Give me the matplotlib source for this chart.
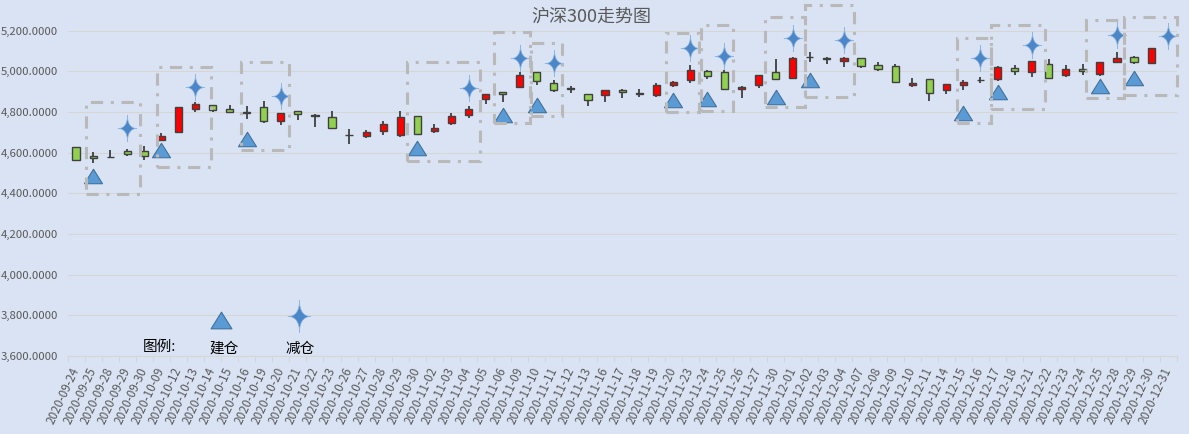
import numpy as np
import matplotlib
matplotlib.use('Agg')
import matplotlib.pyplot as plt
from matplotlib.path import Path
from matplotlib.patches import Rectangle
from matplotlib.ticker import FuncFormatter

plt.rcParams['font.family'] = ['Noto Sans CJK SC', 'DejaVu Sans']

# ---------------- data ----------------
dates = ['2020-09-24', '2020-09-25', '2020-09-28', '2020-09-29', '2020-09-30',
         '2020-10-09', '2020-10-12', '2020-10-13', '2020-10-14', '2020-10-15',
         '2020-10-16', '2020-10-19', '2020-10-20', '2020-10-21', '2020-10-22',
         '2020-10-23', '2020-10-26', '2020-10-27', '2020-10-28', '2020-10-29',
         '2020-10-30', '2020-11-02', '2020-11-03', '2020-11-04', '2020-11-05',
         '2020-11-06', '2020-11-09', '2020-11-10', '2020-11-11', '2020-11-12',
         '2020-11-13', '2020-11-16', '2020-11-17', '2020-11-18', '2020-11-19',
         '2020-11-20', '2020-11-23', '2020-11-24', '2020-11-25', '2020-11-26',
         '2020-11-27', '2020-11-30', '2020-12-01', '2020-12-02', '2020-12-03',
         '2020-12-04', '2020-12-07', '2020-12-08', '2020-12-09', '2020-12-10',
         '2020-12-11', '2020-12-14', '2020-12-15', '2020-12-16', '2020-12-17',
         '2020-12-18', '2020-12-21', '2020-12-22', '2020-12-23', '2020-12-24',
         '2020-12-25', '2020-12-28', '2020-12-29', '2020-12-30', '2020-12-31']

opens = [4626, 4583, 4579, 4606, 4606, 4664, 4703, 4813, 4833, 4813,
         4796, 4823, 4754, 4803, 4781, 4774, 4687, 4680, 4705, 4685,
         4779, 4705, 4744, 4784, 4862, 4897, 4921, 4995, 4941, 4914,
         4887, 4882, 4907, 4891, 4882, 4931, 4956, 5000, 4995, 4912,
         4932, 4995, 4966, 5069, 5068, 5049, 5068, 5029, 5024, 4932,
         4961, 4907, 4932, 4957, 4961, 5015, 4995, 5034, 4980, 5010,
         4985, 5044, 5073, 5039, np.nan]
highs = [4630, 4601, 4611, 4616, 4634, 4695, 4825, 4847, 4833, 4834,
         4828, 4854, 4793, 4805, 4792, 4803, 4715, 4710, 4754, 4803,
         4780, 4739, 4793, 4828, 4887, 4897, 4997, 4995, 4957, 4928,
         4887, 4907, 4911, 4911, 4941, 4951, 5030, 5005, 5005, 4927,
         4980, 5059, 5073, 5093, 5073, 5073, 5068, 5044, 5034, 4966,
         4961, 4936, 4956, 4971, 5024, 5029, 5049, 5059, 5029, 5034,
         5044, 5093, 5078, 5117, np.nan]
lows = [4560, 4551, 4572, 4585, 4562, 4656, 4700, 4798, 4798, 4798,
        4767, 4747, 4738, 4759, 4724, 4720, 4641, 4670, 4685, 4679,
        4685, 4695, 4734, 4769, 4838, 4847, 4921, 4931, 4900, 4892,
        4828, 4847, 4867, 4872, 4872, 4921, 4941, 4961, 4911, 4868,
        4917, 4961, 4966, 5044, 5034, 5020, 5015, 5000, 4946, 4922,
        4853, 4888, 4907, 4941, 4951, 4980, 4971, 4961, 4971, 4980,
        4976, 5039, 5034, 5039, np.nan]
closes = [4562, 4572, 4581, 4592, 4585, 4680, 4823, 4838, 4808, 4798,
          4798, 4754, 4793, 4792, 4783, 4720, 4689, 4700, 4739, 4774,
          4693, 4720, 4779, 4813, 4887, 4887, 4980, 4954, 4907, 4916,
          4857, 4907, 4897, 4893, 4931, 4946, 5005, 4975, 4911, 4922,
          4980, 4961, 5068, 5071, 5059, 5068, 5024, 5010, 4946, 4941,
          4892, 4936, 4946, 4959, 5020, 5000, 5049, 4966, 5010, 5000,
          5044, 5064, 5044, 5117, np.nan]

# 建仓 (build position) markers
buy_dates = ['2020-09-25', '2020-10-09', '2020-10-16', '2020-10-30', '2020-11-06',
             '2020-11-10', '2020-11-20', '2020-11-24', '2020-11-30', '2020-12-02',
             '2020-12-15', '2020-12-17', '2020-12-25', '2020-12-29']
buy_values = [4487, 4613, 4667, 4623, 4787, 4834, 4859, 4862, 4873, 4958,
              4795, 4899, 4928, 4969]

# 减仓 (reduce position) markers
sell_dates = ['2020-09-29', '2020-10-13', '2020-10-20', '2020-11-04', '2020-11-09',
              '2020-11-11', '2020-11-23', '2020-11-25', '2020-12-01', '2020-12-04',
              '2020-12-16', '2020-12-21', '2020-12-28', '2020-12-31']
sell_values = [4720, 4925, 4877, 4920, 5066, 5039, 5116, 5075, 5165, 5153,
               5067, 5132, 5179, 5176]

# dashed annotation boxes (category position range, value range)
box_x0 = [0.56, 4.72, 9.65, 19.4, 24.5, 26.65, 34.6, 36.6, 40.4, 42.7, 51.6, 53.6, 59.2, 61.4]
box_x1 = [3.72, 7.89, 12.46, 23.7, 26.6, 28.5, 36.5, 38.5, 42.7, 45.6, 53.6, 56.8, 61.4, 64.5]
box_lo = [4397, 4529, 4613, 4559, 4746, 4780, 4800, 4805, 4825, 4874, 4746, 4815, 4869, 4884]
box_hi = [4849, 5021, 5046, 5046, 5194, 5139, 5189, 5228, 5267, 5326, 5164, 5228, 5253, 5267]

title = '沪深300走势图'
y_ticks = [3600, 3800, 4000, 4200, 4400, 4600, 4800, 5000, 5200]

# ---------------- figure ----------------
BG = '#DAE3F3'
GRID = '#D6D6D6'
TXT = '#595959'

fig = plt.figure(figsize=(11.89, 4.34), dpi=100)
fig.patch.set_facecolor(BG)
ax = fig.add_axes([67.5 / 1189, 1 - 356 / 434, (1176.7 - 67.5) / 1189, (356 - 30.7) / 434])
ax.set_facecolor(BG)

x = np.arange(len(dates))
o = np.array(opens, float)
h = np.array(highs, float)
l = np.array(lows, float)
c = np.array(closes, float)
valid = ~np.isnan(o)

up = c >= o
colors = np.where(up, '#FF0000', '#92D050')
bottoms = np.minimum(o, c)
heights = np.maximum(np.abs(c - o), 1.0)

ax.vlines(x[valid], l[valid], h[valid], color='#404040', lw=1.3, zorder=2)
ax.bar(x[valid], heights[valid], bottom=bottoms[valid], width=0.42,
       color=colors[valid], edgecolor='#404040', linewidth=1.0, zorder=3)

# markers
tri = Path([(0, 0.8), (-1, -0.8), (1, -0.8), (0, 0.8)],
           [Path.MOVETO, Path.LINETO, Path.LINETO, Path.CLOSEPOLY])
t = np.linspace(0, 2 * np.pi, 240)
p = 3.9
sx = 0.72 * np.sign(np.cos(t)) * np.abs(np.cos(t)) ** p
sy = np.sign(np.sin(t)) * np.abs(np.sin(t)) ** p
star = Path(np.column_stack([sx, sy]))

bx = [dates.index(d) for d in buy_dates]
sxp = [dates.index(d) for d in sell_dates]
ax.plot(bx, buy_values, ls='none', marker=tri, ms=13, mfc='#5B9BD5',
        mec='#41719C', mew=0.8, zorder=4, clip_on=False)
ax.plot(sxp, sell_values, ls='none', marker=star, ms=19, mfc='#4A86C8',
        mec='#8DB5E0', mew=0.5, zorder=4, clip_on=False)

# boxes
for x0, x1, lo, hi in zip(box_x0, box_x1, box_lo, box_hi):
    ax.add_patch(Rectangle((x0, lo), x1 - x0, hi - lo, fill=False,
                           ec='#B9B9B9', lw=2.2, ls=(0, (4, 2.5, 1, 2.5)),
                           zorder=5, clip_on=False))

# legend-like annotations
ax.text(4.9, 3645, '图例:', fontsize=10.5, color='black', ha='center', va='center')
ax.plot([8.5], [3777], ls='none', marker=tri, ms=15, mfc='#5B9BD5',
        mec='#41719C', mew=0.8, zorder=4)
ax.text(8.7, 3634, '建仓', fontsize=10.5, color='black', ha='center', va='center')
ax.plot([13.05], [3796], ls='none', marker=star, ms=23, mfc='#4A86C8',
        mec='#8DB5E0', mew=0.5, zorder=4)
ax.text(13.1, 3634, '减仓', fontsize=10.5, color='black', ha='center', va='center')

# axes styling
ax.set_xlim(-0.5, len(dates) - 0.5)
ax.set_ylim(3600, 5200)
ax.set_yticks(y_ticks)
ax.yaxis.set_major_formatter(FuncFormatter(lambda v, _: f'{v:,.4f}'))
ax.grid(axis='y', color=GRID, lw=0.8, zorder=0)
ax.set_axisbelow(True)
for s in ['top', 'right', 'left']:
    ax.spines[s].set_visible(False)
ax.spines['bottom'].set_color(GRID)
ax.spines['bottom'].set_linewidth(0.8)

ax.set_xticks(x)
ax.set_xticklabels(dates, rotation=65, ha='right', va='center',
                   rotation_mode='anchor', fontsize=8.5, color=TXT)
ax.set_xticks(np.arange(-0.5, len(dates), 1), minor=True)
ax.tick_params(axis='x', which='major', length=0, pad=9)
ax.tick_params(axis='x', which='minor', length=4, color=GRID, width=0.8)
ax.tick_params(axis='y', length=0, pad=7, labelsize=8.2, labelcolor=TXT)

fig.text(0.497, 0.961, title, ha='center', va='center', fontsize=13, color=TXT)

fig.savefig('out.png', dpi=100, facecolor=BG)
